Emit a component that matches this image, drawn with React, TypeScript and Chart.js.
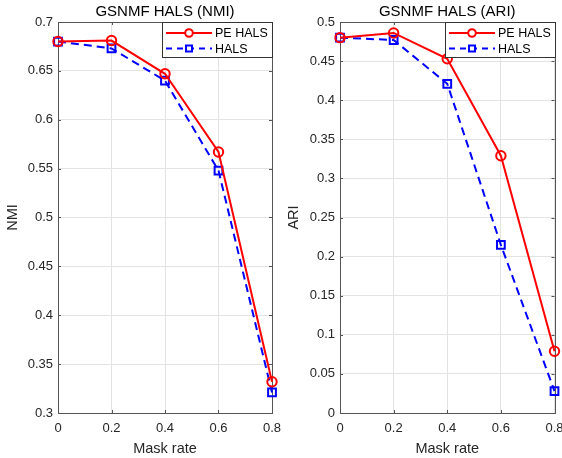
import React, { useEffect, useRef } from "react";
import { Chart, registerables } from "chart.js";

Chart.register(...registerables);

const maskRates = [0, 0.2, 0.4, 0.6, 0.8];
const nmiPE = [0.68, 0.681, 0.647, 0.567, 0.332];
const nmiHALS = [0.68, 0.673, 0.64, 0.548, 0.321];
const ariPE = [0.48, 0.486, 0.453, 0.329, 0.079];
const ariHALS = [0.48, 0.477, 0.421, 0.215, 0.028];
const seriesNames = ["PE HALS", "HALS"];
const titles = ["GSNMF HALS (NMI)", "GSNMF HALS (ARI)"];
const yTitles = ["NMI", "ARI"];
const xTitle = "Mask rate";

const FONT = "'Liberation Sans', Arial, Helvetica, sans-serif";
const RED = "#ff0000";
const BLUE = "#0000ff";

function toXY(vals: number[]) {
  return vals.map((v, i) => ({ x: maskRates[i], y: v }));
}

function fmt(v: number) {
  return String(Math.round(v * 100) / 100);
}

function makeChart(
  canvas: HTMLCanvasElement,
  pe: number[],
  hals: number[],
  title: string,
  yTitle: string,
  yMin: number,
  yMax: number,
  leftW: number,
  rightPad: number
) {
  const framePlugin = {
    id: "frame" + title,
    beforeDatasetsDraw(chart: any) {
      const { ctx, chartArea: a, scales } = chart;
      ctx.save();
      ctx.strokeStyle = "#555555";
      ctx.lineWidth = 1;
      const tl = 3;
      scales.x.ticks.forEach((t: any) => {
        const x = Math.round(scales.x.getPixelForValue(t.value)) + 0.5;
        ctx.beginPath();
        ctx.moveTo(x, a.bottom);
        ctx.lineTo(x, a.bottom - tl);
        ctx.moveTo(x, a.top);
        ctx.lineTo(x, a.top + tl);
        ctx.stroke();
      });
      scales.y.ticks.forEach((t: any) => {
        const y = Math.round(scales.y.getPixelForValue(t.value)) + 0.5;
        ctx.beginPath();
        ctx.moveTo(a.left, y);
        ctx.lineTo(a.left + tl, y);
        ctx.moveTo(a.right, y);
        ctx.lineTo(a.right - tl, y);
        ctx.stroke();
      });
      ctx.strokeRect(Math.round(a.left) + 0.5, Math.round(a.top) + 0.5, Math.round(a.right - a.left), Math.round(a.bottom - a.top));
      ctx.restore();
    },
    afterDraw(chart: any) {
      const { ctx, chartArea: a } = chart;
      ctx.save();
      // title
      ctx.fillStyle = "#000000";
      ctx.font = `15px ${FONT}`;
      ctx.textAlign = "center";
      ctx.textBaseline = "middle";
      ctx.fillText(title, (a.left + a.right) / 2, 12);
      // legend
      const w = 110;
      const h = 35;
      const lx = Math.round(a.right - w);
      const ly = Math.round(a.top);
      ctx.fillStyle = "#ffffff";
      ctx.fillRect(lx, ly, w, h);
      ctx.strokeStyle = "#333333";
      ctx.lineWidth = 1;
      ctx.strokeRect(lx + 0.5, ly + 0.5, w, h);
      const rows = [
        { name: seriesNames[0], color: RED, dash: [] as number[], marker: "circle" },
        { name: seriesNames[1], color: BLUE, dash: [6, 5], marker: "rect" },
      ];
      rows.forEach((r, i) => {
        const yy = ly + 11 + i * 15.5;
        const x0 = lx + 4;
        const x1 = lx + 50;
        ctx.strokeStyle = r.color;
        ctx.lineWidth = 2;
        ctx.setLineDash(r.dash);
        ctx.beginPath();
        ctx.moveTo(x0, yy);
        ctx.lineTo(x1, yy);
        ctx.stroke();
        ctx.setLineDash([]);
        const cx = (x0 + x1) / 2;
        if (r.marker === "circle") {
          ctx.fillStyle = "#ffffff";
          ctx.beginPath();
          ctx.arc(cx, yy, 3.8, 0, Math.PI * 2);
          ctx.fill();
          ctx.stroke();
        } else {
          ctx.fillStyle = "#ffffff";
          ctx.fillRect(cx - 3, yy - 3, 6, 6);
          ctx.strokeRect(cx - 3, yy - 3, 6, 6);
        }
        ctx.fillStyle = "#000000";
        ctx.font = `12.5px ${FONT}`;
        ctx.textAlign = "left";
        ctx.textBaseline = "middle";
        ctx.fillText(r.name, lx + 53, yy + 1);
      });
      ctx.restore();
    },
  };

  return new Chart(canvas, {
    type: "line",
    data: {
      datasets: [
        {
          label: seriesNames[0],
          data: toXY(pe),
          borderColor: RED,
          backgroundColor: "rgba(0,0,0,0)",
          borderWidth: 2,
          pointStyle: "circle",
          pointRadius: 4.7,
          pointBorderWidth: 2,
          pointBorderColor: RED,
          pointBackgroundColor: "rgba(0,0,0,0)",
          tension: 0,
          clip: false as any,
        },
        {
          label: seriesNames[1],
          data: toXY(hals),
          borderColor: BLUE,
          backgroundColor: "rgba(0,0,0,0)",
          borderWidth: 2,
          borderDash: [8, 5],
          pointStyle: "rect",
          pointRadius: 5.5,
          pointBorderWidth: 2,
          pointBorderColor: BLUE,
          pointBackgroundColor: "rgba(0,0,0,0)",
          tension: 0,
          clip: false as any,
        },
      ],
    },
    options: {
      responsive: false,
      animation: false,
      layout: { padding: { left: 0, right: rightPad, top: 22, bottom: 0 } },
      plugins: { legend: { display: false }, title: { display: false }, tooltip: { enabled: false } },
      scales: {
        x: {
          type: "linear",
          min: 0,
          max: 0.8,
          ticks: {
            stepSize: 0.2,
            padding: 8,
            color: "#262626",
            font: { family: FONT, size: 13 },
            callback: (v: any) => fmt(Number(v)),
            maxRotation: 0,
          },
          grid: { color: "#e3e3e3", drawTicks: false },
          border: { display: false },
          title: {
            display: true,
            text: xTitle,
            color: "#262626",
            font: { family: FONT, size: 14.5 },
            padding: { top: 2, bottom: 0 },
          },
          afterFit: (s: any) => {
            s.height = 45;
            s.paddingLeft = 0;
            s.paddingRight = 0;
          },
        },
        y: {
          type: "linear",
          min: yMin,
          max: yMax,
          ticks: {
            stepSize: 0.05,
            padding: 5,
            color: "#262626",
            font: { family: FONT, size: 13 },
            callback: (v: any) => fmt(Number(v)),
          },
          grid: { color: "#e3e3e3", drawTicks: false },
          border: { display: false },
          title: {
            display: true,
            text: yTitle,
            color: "#262626",
            font: { family: FONT, size: 14.5 },
            padding: { top: 4, bottom: 0 },
          },
          afterFit: (s: any) => {
            s.width = leftW;
            s.paddingTop = 0;
            s.paddingBottom = 0;
          },
        },
      },
    },
    plugins: [framePlugin],
  });
}

export default function App() {
  const leftRef = useRef<HTMLCanvasElement>(null);
  const rightRef = useRef<HTMLCanvasElement>(null);

  useEffect(() => {
    document.body.style.margin = "0";
    const c1 = makeChart(leftRef.current!, nmiPE, nmiHALS, titles[0], yTitles[0], 0.3, 0.7, 58, 9);
    const c2 = makeChart(rightRef.current!, ariPE, ariHALS, titles[1], yTitles[1], 0, 0.5, 59, 7);
    return () => {
      c1.destroy();
      c2.destroy();
    };
  }, []);

  return (
    <div style={{ display: "flex", width: 562, height: 458, background: "#ffffff" }}>
      <canvas ref={leftRef} width={281} height={458} style={{ width: 281, height: 458, display: "block" }} />
      <canvas ref={rightRef} width={281} height={458} style={{ width: 281, height: 458, display: "block" }} />
    </div>
  );
}
